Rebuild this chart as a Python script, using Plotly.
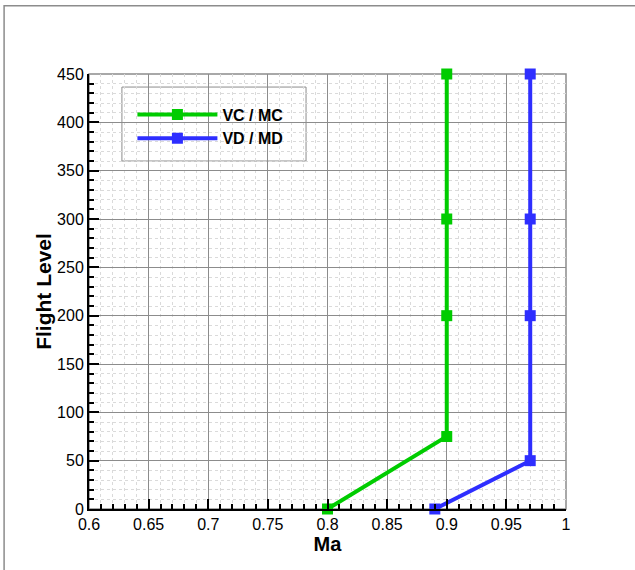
import plotly.graph_objects as go

# Speed limits versus flight level
vc_mach = [0.80, 0.90, 0.90, 0.90, 0.90]
vc_fl = [0, 75, 200, 300, 450]
vd_mach = [0.89, 0.97, 0.97, 0.97, 0.97]
vd_fl = [0, 50, 200, 300, 450]

x_ticks = [0.6, 0.65, 0.7, 0.75, 0.8, 0.85, 0.9, 0.95, 1.0]
x_tick_text = ["0.6", "0.65", "0.7", "0.75", "0.8", "0.85", "0.9", "0.95", "1"]
y_ticks = [0, 50, 100, 150, 200, 250, 300, 350, 400, 450]

GREEN = "#00cc00"
BLUE = "#2e2eff"
FONT = "Liberation Sans, Arial, sans-serif"

fig = go.Figure()
fig.add_trace(go.Scatter(
    x=vc_mach, y=vc_fl, mode="lines+markers", name="<b>VC / MC</b>",
    line=dict(color=GREEN, width=4), cliponaxis=False,
    marker=dict(symbol="square", size=11, color=GREEN),
))
fig.add_trace(go.Scatter(
    x=vd_mach, y=vd_fl, mode="lines+markers", name="<b>VD / MD</b>",
    line=dict(color=BLUE, width=4), cliponaxis=False,
    marker=dict(symbol="square", size=11, color=BLUE),
))

axis_common = dict(
    showline=True, linecolor="black", linewidth=2,
    ticks="inside", ticklen=10, tickwidth=2, tickcolor="black",
    showgrid=True, gridcolor="#8c8c8c", gridwidth=1,
    zeroline=False,
    tickfont=dict(family=FONT, size=16, color="black"),
)

fig.update_xaxes(
    range=[0.6, 1.0], tickvals=x_ticks, ticktext=x_tick_text,
    title=dict(text="<b>Ma</b>", standoff=0,
               font=dict(family=FONT, size=20, color="black")),
    minor=dict(dtick=0.01, ticks="inside", ticklen=5, tickcolor="black",
               showgrid=True, gridcolor="#dadada", griddash="dot", gridwidth=1),
    **axis_common,
)
fig.update_yaxes(
    range=[0, 450], tickvals=y_ticks,
    title=dict(text="<b>Flight Level</b>", standoff=0,
               font=dict(family=FONT, size=21, color="black")),
    minor=dict(dtick=10, ticks="inside", ticklen=5, tickcolor="black",
               showgrid=True, gridcolor="#dadada", griddash="dot", gridwidth=1),
    **axis_common,
)

# Plot frame on the top and right, outer page frame, and legend box
fig.add_shape(type="rect", xref="paper", yref="paper", x0=0, y0=0, x1=1, y1=1,
              line=dict(color="#8c8c8c", width=1.5), layer="below")
fig.add_shape(type="rect", xref="paper", yref="paper",
              x0=-0.178, y0=-0.2, x1=1.2, y1=1.157,
              line=dict(color="#8c8c8c", width=1.5))
fig.add_shape(type="rect", xref="paper", yref="paper",
              x0=0.069, y0=0.800, x1=0.455, y1=0.970,
              line=dict(color="#8c8c8c", width=1), fillcolor="white", layer="below")

fig.update_layout(
    width=635, height=570,
    margin=dict(l=89, r=69, t=74, b=61),
    paper_bgcolor="white", plot_bgcolor="white",
    showlegend=True,
    legend=dict(
        x=0.091, y=0.946, xanchor="left", yanchor="top",
        bgcolor="rgba(0,0,0,0)", borderwidth=0,
        font=dict(family=FONT, size=16, color="black"),
        itemwidth=80, tracegroupgap=0,
    ),
    font=dict(family=FONT),
)

fig.write_html("out.html")
